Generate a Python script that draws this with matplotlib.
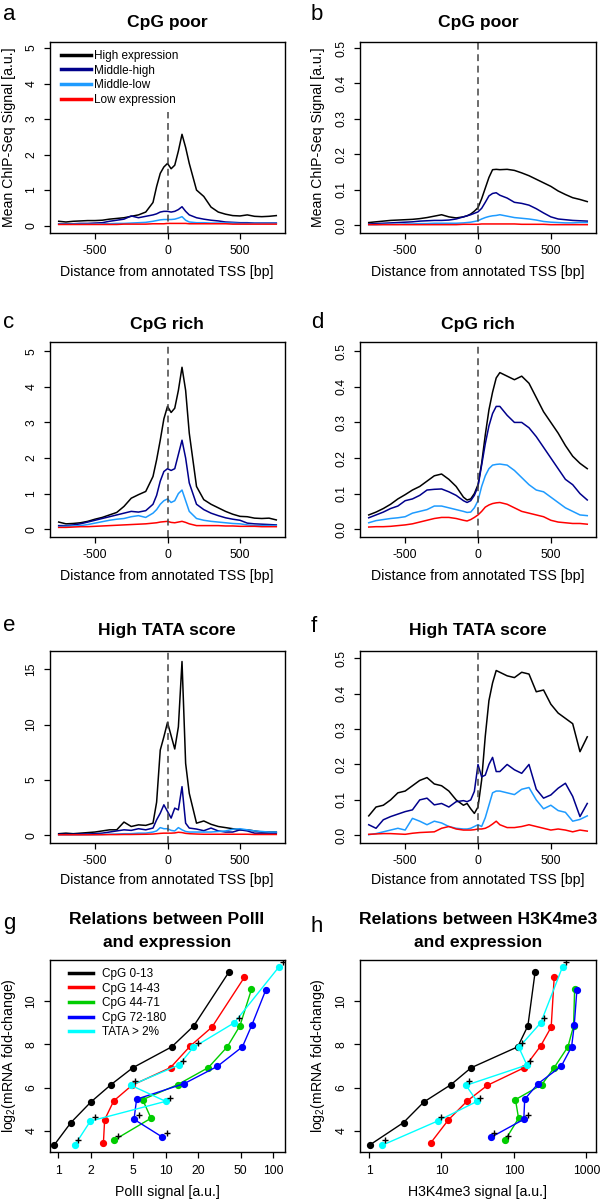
import matplotlib
matplotlib.use('Agg')
import matplotlib.pyplot as plt
from matplotlib.lines import Line2D
from matplotlib.ticker import NullLocator

plt.rcParams['font.family'] = ['Liberation Sans', 'DejaVu Sans']
plt.rcParams['axes.unicode_minus'] = False
plt.rcParams['mathtext.fontset'] = 'custom'
plt.rcParams['mathtext.rm'] = 'Liberation Sans'

# distance from TSS (bp) shared by panels a-f
tss = [-750, -700, -650, -600, -550, -500, -450, -400, -350, -300, -250, -200,
       -150, -100, -75, -50, -25, 0, 25, 50, 75, 100, 125, 150, 200, 250, 300,
       350, 400, 450, 500, 550, 600, 650, 700, 750]

# a: CpG poor, PolII
a_high = [0.12, 0.10, 0.12, 0.13, 0.14, 0.14, 0.15, 0.18, 0.20, 0.22, 0.26, 0.30,
          0.38, 0.65, 1.10, 1.47, 1.65, 1.75, 1.60, 1.70, 2.10, 2.57, 2.20, 1.75,
          1.00, 0.82, 0.52, 0.38, 0.32, 0.28, 0.27, 0.30, 0.26, 0.25, 0.26, 0.28]
a_mhigh = [0.05, 0.05, 0.05, 0.06, 0.06, 0.07, 0.08, 0.12, 0.15, 0.18, 0.27, 0.22,
           0.26, 0.30, 0.33, 0.38, 0.40, 0.40, 0.38, 0.40, 0.45, 0.53, 0.40, 0.30,
           0.22, 0.18, 0.15, 0.13, 0.10, 0.09, 0.08, 0.08, 0.07, 0.07, 0.07, 0.07]
a_mlow = [0.04, 0.04, 0.04, 0.04, 0.04, 0.04, 0.05, 0.05, 0.06, 0.06, 0.07, 0.08,
          0.09, 0.12, 0.14, 0.16, 0.17, 0.17, 0.17, 0.18, 0.21, 0.25, 0.15, 0.10,
          0.08, 0.08, 0.07, 0.07, 0.07, 0.07, 0.06, 0.06, 0.06, 0.06, 0.06, 0.06]
a_low = [0.03, 0.03, 0.03, 0.03, 0.03, 0.03, 0.03, 0.03, 0.03, 0.04, 0.04, 0.04,
         0.04, 0.05, 0.05, 0.05, 0.05, 0.06, 0.06, 0.06, 0.06, 0.06, 0.06, 0.05,
         0.05, 0.05, 0.05, 0.05, 0.05, 0.04, 0.04, 0.04, 0.04, 0.04, 0.04, 0.04]

# b: CpG poor, H3K4me3
b_high = [0.008, 0.010, 0.012, 0.014, 0.015, 0.016, 0.017, 0.019, 0.022, 0.026, 0.030, 0.024,
          0.021, 0.024, 0.027, 0.032, 0.040, 0.050, 0.075, 0.105, 0.135, 0.157, 0.158, 0.157,
          0.158, 0.155, 0.148, 0.140, 0.130, 0.120, 0.110, 0.097, 0.087, 0.078, 0.073, 0.067]
b_mhigh = [0.004, 0.005, 0.006, 0.007, 0.008, 0.009, 0.010, 0.012, 0.013, 0.014, 0.014, 0.015,
           0.018, 0.024, 0.027, 0.030, 0.034, 0.038, 0.048, 0.065, 0.083, 0.090, 0.092, 0.085,
           0.077, 0.065, 0.062, 0.057, 0.047, 0.035, 0.024, 0.018, 0.016, 0.014, 0.013, 0.012]
b_mlow = [0.002, 0.002, 0.003, 0.003, 0.003, 0.004, 0.004, 0.005, 0.005, 0.006, 0.006, 0.006,
          0.006, 0.007, 0.008, 0.009, 0.011, 0.013, 0.018, 0.022, 0.025, 0.027, 0.028, 0.030,
          0.026, 0.022, 0.020, 0.018, 0.015, 0.011, 0.009, 0.008, 0.007, 0.007, 0.008, 0.008]
b_low = [0.002, 0.002, 0.002, 0.002, 0.002, 0.002, 0.002, 0.002, 0.002, 0.002, 0.002, 0.002,
         0.002, 0.003, 0.003, 0.003, 0.003, 0.003, 0.004, 0.004, 0.004, 0.004, 0.004, 0.004,
         0.004, 0.004, 0.003, 0.003, 0.003, 0.003, 0.002, 0.002, 0.002, 0.002, 0.002, 0.002]

# c: CpG rich, PolII
c_high = [0.20, 0.15, 0.16, 0.18, 0.22, 0.28, 0.33, 0.40, 0.47, 0.64, 0.87, 0.97,
          1.06, 1.48, 1.95, 2.50, 3.10, 3.45, 3.28, 3.40, 3.90, 4.55, 3.90, 2.70,
          1.20, 0.83, 0.70, 0.60, 0.50, 0.42, 0.36, 0.35, 0.31, 0.30, 0.31, 0.26]
c_mhigh = [0.10, 0.10, 0.12, 0.15, 0.20, 0.25, 0.30, 0.35, 0.40, 0.45, 0.50, 0.48,
           0.52, 0.70, 0.95, 1.35, 1.62, 1.70, 1.65, 1.70, 2.10, 2.50, 2.00, 1.30,
           0.70, 0.55, 0.45, 0.38, 0.32, 0.28, 0.25, 0.17, 0.15, 0.14, 0.13, 0.12]
c_mlow = [0.07, 0.08, 0.09, 0.10, 0.13, 0.17, 0.21, 0.25, 0.28, 0.30, 0.35, 0.38,
          0.33, 0.45, 0.55, 0.70, 0.80, 0.85, 0.75, 0.80, 1.00, 1.10, 0.80, 0.50,
          0.30, 0.25, 0.22, 0.20, 0.18, 0.16, 0.15, 0.12, 0.10, 0.10, 0.10, 0.10]
c_low = [0.05, 0.05, 0.06, 0.07, 0.07, 0.08, 0.09, 0.10, 0.11, 0.12, 0.13, 0.14,
         0.15, 0.17, 0.18, 0.20, 0.21, 0.22, 0.19, 0.18, 0.20, 0.22, 0.19, 0.15,
         0.10, 0.10, 0.10, 0.10, 0.09, 0.09, 0.08, 0.08, 0.08, 0.07, 0.07, 0.07]

# d: CpG rich, H3K4me3
d_high = [0.040, 0.048, 0.058, 0.070, 0.085, 0.097, 0.110, 0.120, 0.135, 0.150, 0.155, 0.140,
          0.120, 0.090, 0.082, 0.085, 0.100, 0.125, 0.185, 0.265, 0.335, 0.385, 0.425, 0.440,
          0.430, 0.420, 0.430, 0.410, 0.370, 0.330, 0.300, 0.270, 0.235, 0.205, 0.185, 0.170]
d_mhigh = [0.032, 0.040, 0.048, 0.058, 0.065, 0.080, 0.085, 0.095, 0.110, 0.112, 0.113, 0.105,
           0.095, 0.080, 0.075, 0.080, 0.095, 0.120, 0.180, 0.240, 0.290, 0.325, 0.345, 0.345,
           0.320, 0.300, 0.300, 0.285, 0.260, 0.230, 0.200, 0.170, 0.140, 0.125, 0.100, 0.082]
d_mlow = [0.018, 0.024, 0.027, 0.030, 0.032, 0.035, 0.045, 0.050, 0.055, 0.065, 0.065, 0.060,
          0.055, 0.050, 0.047, 0.048, 0.060, 0.080, 0.120, 0.150, 0.170, 0.180, 0.182, 0.183,
          0.180, 0.165, 0.145, 0.125, 0.110, 0.105, 0.090, 0.075, 0.060, 0.050, 0.040, 0.038]
d_low = [0.006, 0.007, 0.007, 0.008, 0.010, 0.012, 0.015, 0.020, 0.025, 0.030, 0.033, 0.033,
         0.030, 0.025, 0.023, 0.027, 0.033, 0.040, 0.050, 0.062, 0.068, 0.072, 0.074, 0.075,
         0.070, 0.060, 0.050, 0.045, 0.040, 0.035, 0.025, 0.020, 0.018, 0.016, 0.016, 0.014]

# e: high TATA score, PolII
e_high = [0.15, 0.20, 0.15, 0.20, 0.25, 0.30, 0.40, 0.50, 0.50, 1.20, 0.80, 0.95,
          0.90, 1.10, 3.00, 7.70, 8.90, 10.20, 9.00, 7.80, 9.80, 15.70, 6.50, 3.80,
          1.10, 1.30, 1.00, 0.80, 0.70, 0.60, 0.50, 0.50, 0.40, 0.30, 0.30, 0.30]
e_mhigh = [0.10, 0.10, 0.10, 0.12, 0.13, 0.15, 0.20, 0.30, 0.40, 0.50, 0.45, 0.60,
           0.50, 0.66, 1.40, 2.00, 2.76, 2.16, 1.56, 2.46, 2.30, 4.40, 1.10, 0.66,
           0.57, 0.42, 0.66, 0.40, 0.30, 0.30, 0.50, 0.40, 0.20, 0.20, 0.20, 0.20]
e_mlow = [0.05, 0.05, 0.05, 0.05, 0.06, 0.06, 0.08, 0.10, 0.12, 0.15, 0.15, 0.20,
          0.20, 0.30, 0.40, 0.70, 0.60, 0.60, 0.45, 0.40, 0.70, 0.50, 0.35, 0.30,
          0.30, 0.30, 0.30, 0.35, 0.40, 0.55, 0.60, 0.50, 0.40, 0.35, 0.30, 0.30]
e_low = [0.05, 0.05, 0.05, 0.05, 0.05, 0.06, 0.06, 0.07, 0.07, 0.08, 0.08, 0.09,
         0.10, 0.12, 0.15, 0.18, 0.20, 0.20, 0.20, 0.22, 0.28, 0.25, 0.18, 0.15,
         0.12, 0.10, 0.10, 0.10, 0.10, 0.10, 0.10, 0.10, 0.08, 0.08, 0.08, 0.08]

# f: high TATA score, H3K4me3
f_high = [0.055, 0.080, 0.085, 0.100, 0.120, 0.125, 0.140, 0.155, 0.163, 0.145, 0.140, 0.125,
          0.100, 0.085, 0.090, 0.075, 0.062, 0.080, 0.156, 0.280, 0.380, 0.430, 0.465, 0.460,
          0.450, 0.445, 0.460, 0.455, 0.405, 0.410, 0.370, 0.345, 0.330, 0.315, 0.236, 0.278]
f_mhigh = [0.030, 0.020, 0.044, 0.053, 0.060, 0.067, 0.072, 0.100, 0.105, 0.086, 0.090, 0.080,
           0.095, 0.098, 0.095, 0.100, 0.124, 0.200, 0.165, 0.170, 0.200, 0.220, 0.180, 0.180,
           0.200, 0.185, 0.175, 0.200, 0.130, 0.105, 0.114, 0.133, 0.147, 0.110, 0.053, 0.090]
f_mlow = [0.002, 0.005, 0.010, 0.015, 0.020, 0.015, 0.048, 0.040, 0.030, 0.040, 0.035, 0.025,
          0.020, 0.018, 0.018, 0.020, 0.025, 0.030, 0.025, 0.050, 0.085, 0.120, 0.125, 0.125,
          0.120, 0.115, 0.130, 0.135, 0.100, 0.075, 0.085, 0.070, 0.065, 0.040, 0.045, 0.055]
f_low = [0.003, 0.004, 0.005, 0.005, 0.004, 0.003, 0.006, 0.008, 0.009, 0.010, 0.020, 0.025,
         0.018, 0.015, 0.015, 0.015, 0.016, 0.018, 0.018, 0.020, 0.025, 0.032, 0.040, 0.030,
         0.022, 0.022, 0.025, 0.030, 0.025, 0.020, 0.015, 0.018, 0.015, 0.010, 0.015, 0.012]

prof_labels = ['High expression', 'Middle-high', 'Middle-low', 'Low expression']
prof_colors = ['black', '#00008B', '#1E9BFF', '#FF0000']

# g, h: expression level (log2 fold-change) per group, with PolII / H3K4me3 signal
grp_labels = ['CpG 0-13', 'CpG 14-43', 'CpG 44-71', 'CpG 72-180', 'TATA > 2%']
grp_colors = ['black', '#FF0000', '#00CD00', '#0000FF', '#00FFFF']
y_cpg0 = [3.37, 4.39, 5.34, 6.14, 6.92, 7.89, 8.86, 11.33]
y_cpg14 = [3.46, 4.52, 5.39, 6.11, 6.93, 7.92, 8.80, 11.10]
y_cpg44 = [3.57, 4.59, 5.45, 6.14, 6.93, 7.89, 8.86, 10.54]
y_cpg72 = [3.72, 4.54, 5.47, 6.19, 6.99, 7.89, 8.89, 10.51]
y_tata = [3.34, 4.46, 5.37, 6.11, 7.05, 7.86, 9.00, 11.59]
pol_cpg0 = [0.92, 1.31, 2.01, 3.09, 4.93, 11.4, 18.3, 38.7]
pol_cpg14 = [2.63, 2.70, 3.28, 4.85, 11.1, 16.9, 27.0, 54.1]
pol_cpg44 = [3.28, 7.30, 6.10, 12.9, 25.0, 37.5, 49.2, 63.0]
pol_cpg72 = [9.30, 5.07, 5.36, 14.9, 30.4, 51.9, 63.5, 85.6]
pol_tata = [1.42, 1.99, 10.0, 4.75, 13.3, 18.1, 43.6, 114.0]
k4_cpg0 = [1.04, 2.99, 5.71, 13.5, 25.6, 113, 156, 196]
k4_cpg14 = [7.14, 12.5, 22.7, 43.0, 140, 233, 327, 360]
k4_cpg44 = [75.5, 116, 105, 243, 360, 557, 667, 689]
k4_cpg72 = [48.9, 137, 141, 216, 450, 626, 681, 741]
k4_tata = [1.51, 8.83, 31.0, 21.8, 151, 117, 235, 470]
plus_y = [3.57, 3.75, 3.92, 4.64, 4.76, 5.54, 6.30, 7.23, 8.06, 9.22, 11.80]
plus_pol = [1.53, 3.57, 10.2, 2.2, 5.6, 11.0, 5.2, 14.5, 20.0, 48.4, 124]
plus_k4 = [1.68, 83.9, 53.9, 9.9, 155, 33.7, 24.2, 167, 128, 261, 523]

W, H = 600, 1200
fig = plt.figure(figsize=(6, 12), dpi=100)


def box(l, t, r, b):
    return [l / W, 1 - b / H, (r - l) / W, (b - t) / H]


def ftext(x, y, s, **kw):
    fig.text(x / W, 1 - y / H, s, **kw)


def style(ax):
    for sp in ax.spines.values():
        sp.set_linewidth(1.0)
    ax.tick_params(direction='out', length=4, width=0.9, labelsize=8.7, pad=5)


def profile(rect, series, ylim, yticks, ylabels, vtop=None):
    ax = fig.add_axes(rect)
    for vals, col, lab in zip(series, prof_colors, prof_labels):
        ax.plot(tss, vals, color=col, lw=1.1, label=lab)
    ax.set_xlim(-810, 810)
    ax.set_ylim(*ylim)
    top = 1.0 if vtop is None else (vtop - ylim[0]) / (ylim[1] - ylim[0])
    ax.axvline(0, ymax=top, color='#444444', lw=1.1, ls=(0, (4.5, 3)))
    ax.set_xticks([-500, 0, 500])
    ax.set_xticklabels(['-500', '0', '500'])
    ax.set_yticks(yticks)
    ax.set_yticklabels(ylabels, rotation=90, va='center')
    style(ax)
    return ax


# --- row 1
ax_a = profile(box(50, 42, 285, 233), [a_high, a_mhigh, a_mlow, a_low],
               (-0.21, 5.17), [0, 1, 2, 3, 4, 5], ['0', '1', '2', '3', '4', '5'], vtop=3.2)
ax_a.legend(loc='upper left', bbox_to_anchor=(61 / W, 1 - 50 / H),
            bbox_transform=fig.transFigure, frameon=False, fontsize=8.5,
            handlelength=2.5, handletextpad=0.3, labelspacing=0.22,
            borderaxespad=0, borderpad=0)
for ln in ax_a.get_legend().get_lines():
    ln.set_linewidth(2.5)
ax_b = profile(box(360, 42, 596, 233), [b_high, b_mhigh, b_mlow, b_low],
               (-0.0215, 0.517), [0, 0.1, 0.2, 0.3, 0.4, 0.5],
               ['0.0', '0.1', '0.2', '0.3', '0.4', '0.5'])

# --- row 2
ax_c = profile(box(50, 342, 285, 537), [c_high, c_mhigh, c_mlow, c_low],
               (-0.22, 5.26), [0, 1, 2, 3, 4, 5], ['0', '1', '2', '3', '4', '5'])
ax_d = profile(box(360, 342, 596, 537), [d_high, d_mhigh, d_mlow, d_low],
               (-0.022, 0.526), [0, 0.1, 0.2, 0.3, 0.4, 0.5],
               ['0.0', '0.1', '0.2', '0.3', '0.4', '0.5'])

# --- row 3
ax_e = profile(box(50, 651, 285, 843), [e_high, e_mhigh, e_mlow, e_low],
               (-0.69, 16.65), [0, 5, 10, 15], ['0', '5', '10', '15'])
ax_f = profile(box(360, 651, 596, 843), [f_high, f_mhigh, f_mlow, f_low],
               (-0.0215, 0.52), [0, 0.1, 0.2, 0.3, 0.4, 0.5],
               ['0.0', '0.1', '0.2', '0.3', '0.4', '0.5'])


def relation(rect, xs_list, plus_x, xlim, xticks):
    ax = fig.add_axes(rect)
    ax.set_xscale('log')
    ys_list = [y_cpg0, y_cpg14, y_cpg44, y_cpg72, y_tata]
    for xs, ys, col in zip(xs_list, ys_list, grp_colors):
        ax.plot(xs, ys, color=col, lw=1.0, marker='o', ms=4.2, mec=col, mfc=col)
    ax.plot(plus_x, plus_y, ls='none', marker='+', color='black', ms=5, mew=1.0)
    ax.set_xlim(*xlim)
    ax.set_ylim(3.03, 11.9)
    ax.set_xticks(xticks)
    ax.set_xticklabels([str(t) for t in xticks])
    ax.xaxis.set_minor_locator(NullLocator())
    ax.set_yticks([4, 6, 8, 10])
    ax.set_yticklabels(['4', '6', '8', '10'], rotation=90, va='center')
    style(ax)
    return ax


# --- row 4
ax_g = relation(box(50, 960, 285, 1152),
                [pol_cpg0, pol_cpg14, pol_cpg44, pol_cpg72, pol_tata], plus_pol,
                (0.836, 129.4), [1, 2, 5, 10, 20, 50, 100])
handles = [Line2D([], [], color=c, lw=2.5) for c in grp_colors]
ax_g.legend(handles, grp_labels, loc='upper left', bbox_to_anchor=(69 / W, 1 - 968 / H),
            bbox_transform=fig.transFigure, frameon=False, fontsize=8.5,
            handlelength=2.05, handletextpad=0.75, labelspacing=0.22,
            borderaxespad=0, borderpad=0)
ax_h = relation(box(360, 960, 596, 1152),
                [k4_cpg0, k4_cpg14, k4_cpg44, k4_cpg72, k4_tata], plus_k4,
                (0.75, 1360), [1, 10, 100, 1000])

# titles, panel letters, axis labels
tkw = dict(ha='center', va='center', fontsize=12.6, fontweight='bold')
ftext(167, 22, 'CpG poor', **tkw)
ftext(478, 22, 'CpG poor', **tkw)
ftext(167, 325, 'CpG rich', **tkw)
ftext(478, 325, 'CpG rich', **tkw)
ftext(167, 631, 'High TATA score', **tkw)
ftext(478, 631, 'High TATA score', **tkw)
ftext(167, 920, 'Relations between PolII', **tkw)
ftext(167, 942, 'and expression', **tkw)
ftext(478, 920, 'Relations between H3K4me3', **tkw)
ftext(478, 942, 'and expression', **tkw)

lkw = dict(ha='left', va='center', fontsize=16)
for s, x, y in [('a', 3, 15), ('b', 311, 15), ('c', 3, 322), ('d', 311, 322),
                ('e', 3, 626), ('f', 311, 627), ('g', 3, 923), ('h', 311, 927)]:
    ftext(x, y, s, **lkw)

xl = 'Distance from annotated TSS [bp]'
akw = dict(ha='center', va='center', fontsize=10.2)
ftext(167, 272, xl, **akw)
ftext(478, 272, xl, **akw)
ftext(167, 576, xl, **akw)
ftext(478, 576, xl, **akw)
ftext(167, 880, xl, **akw)
ftext(478, 880, xl, **akw)
ftext(167, 1192, 'PolII signal [a.u.]', **akw)
ftext(478, 1192, 'H3K4me3 signal [a.u.]', **akw)

ykw = dict(ha='center', va='center', fontsize=10.2, rotation=90)
ftext(9, 137, 'Mean ChIP-Seq Signal [a.u.]', **ykw)
ftext(318, 137, 'Mean ChIP-Seq Signal [a.u.]', **ykw)
ftext(9, 1056, r'log$_2$(mRNA fold-change)', **ykw)
ftext(318, 1056, r'log$_2$(mRNA fold-change)', **ykw)

fig.savefig('out.png', dpi=100)
